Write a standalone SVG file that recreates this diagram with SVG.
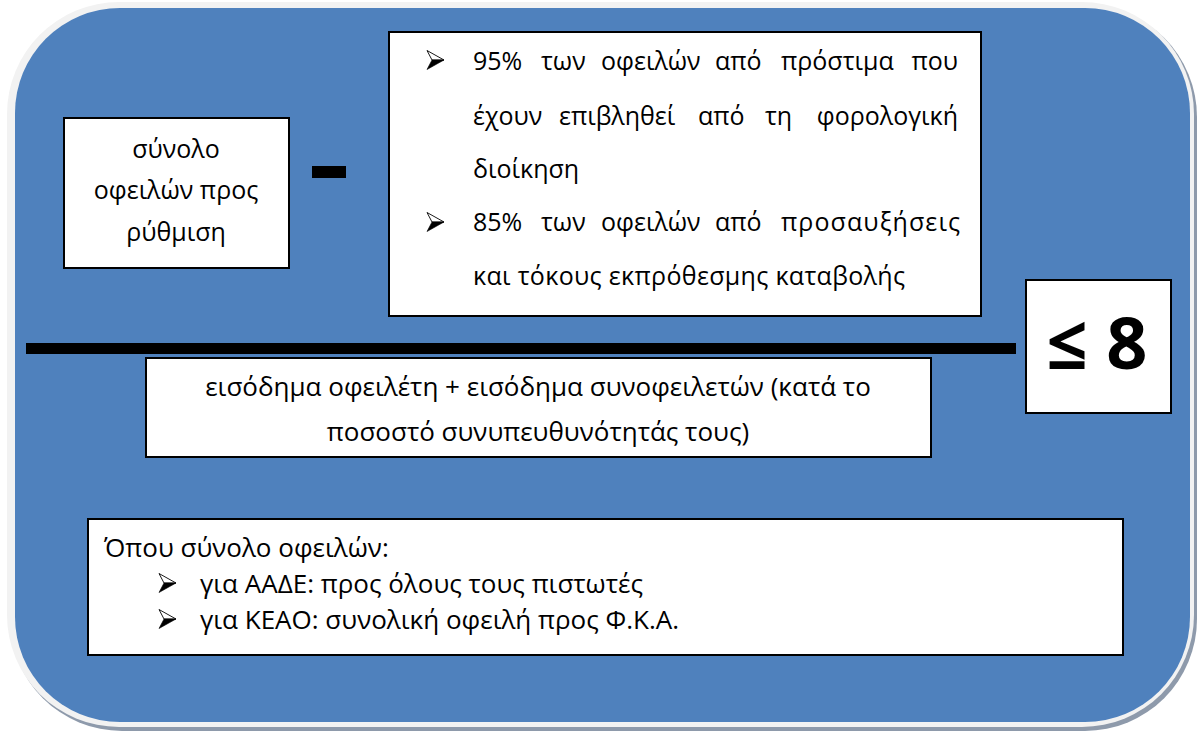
<svg xmlns="http://www.w3.org/2000/svg" width="1197" height="731" viewBox="0 0 1197 731">
<style>
.box{fill:#fff;stroke:#000;stroke-width:2}
.t{font-family:"Open Sans","Noto Sans","DejaVu Sans",sans-serif;font-size:25px;fill:#000}
.b{font-size:26px}
.c{text-anchor:middle}
.e{text-anchor:end}
</style>
<defs>
<g id="arr">
<path d="M0,-9.5 L17,0 L5,0 Z" fill="#fff" stroke="#000" stroke-width="0.9" stroke-linejoin="miter"/>
<path d="M5,0 L17,0 L0,9.5 Z" fill="#000" stroke="#000" stroke-width="0.6"/>
</g>
</defs>
<g id="background">
<rect x="10" y="5" width="1187" height="726" rx="112" fill="#8e9aab"/>
<rect x="7" y="2" width="1187" height="725" rx="112" fill="#f2f2f2"/>
<rect x="15" y="8" width="1175" height="714" rx="105" fill="#4f81bd"/>
</g>
<g id="numerator-left">
<rect class="box" x="64" y="118" width="225" height="150"/>
<text class="t c" x="176" y="158">σύνολο</text>
<text class="t c" x="176" y="199">οφειλών προς</text>
<text class="t c" x="176" y="241">ρύθμιση</text>
</g>
<g id="minus">
<rect x="312" y="166" width="34" height="12" fill="#000"/>
</g>
<g id="numerator-right">
<rect class="box" x="389" y="32" width="592" height="284"/>
<use href="#arr" x="427" y="60"/>
<use href="#arr" x="427" y="222"/>
<text class="t" y="70"><tspan x="473">95%</tspan><tspan x="541">των</tspan><tspan x="601">οφειλών</tspan><tspan x="715">από</tspan><tspan x="781">πρόστιμα</tspan></text>
<text class="t e" x="958" y="70">που</text>
<text class="t" y="125"><tspan x="473">έχουν</tspan><tspan x="559">επιβληθεί</tspan><tspan x="698">από</tspan><tspan x="765">τη</tspan></text>
<text class="t e" x="958" y="125">φορολογική</text>
<text class="t" x="473" y="178">διοίκηση</text>
<text class="t" y="231"><tspan x="473">85%</tspan><tspan x="541">των</tspan><tspan x="601">οφειλών</tspan><tspan x="715">από</tspan></text>
<text class="t" x="781" y="231" textLength="179" lengthAdjust="spacing">προσαυξήσεις</text>
<text class="t" x="473" y="285" textLength="432" lengthAdjust="spacing">και τόκους εκπρόθεσμης καταβολής</text>
</g>
<g id="fraction-line">
<rect x="26" y="343" width="990" height="11" fill="#000"/>
</g>
<g id="leq8">
<rect class="box" x="1026" y="280" width="145" height="133"/>
<text x="1097" y="369" text-anchor="middle" font-family="Open Sans, Noto Sans, DejaVu Sans, sans-serif" font-size="72" font-weight="bold">≤ 8</text>
</g>
<g id="denominator">
<rect class="box" x="146" y="358" width="785" height="99"/>
<text class="t b c" x="538" y="396">εισόδημα οφειλέτη + εισόδημα συνοφειλετών (κατά το</text>
<text class="t b c" x="538" y="441">ποσοστό συνυπευθυνότητάς τους)</text>
</g>
<g id="note">
<rect class="box" x="88" y="519" width="1035" height="136"/>
<text class="t b" x="104" y="557">Όπου σύνολο οφειλών:</text>
<use href="#arr" x="159" y="583"/>
<use href="#arr" x="159" y="619"/>
<text class="t b" x="200" y="593">για ΑΑΔΕ: προς όλους τους πιστωτές</text>
<text class="t b" x="200" y="629">για ΚΕΑΟ: συνολική οφειλή προς Φ.Κ.Α.</text>
</g>
</svg>
